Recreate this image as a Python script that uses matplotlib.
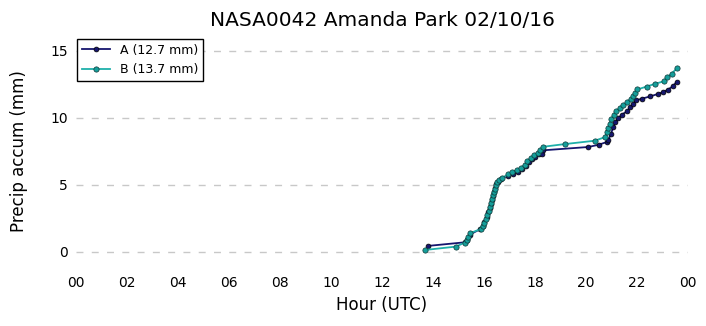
import matplotlib
matplotlib.use("Agg")
import matplotlib.pyplot as plt
from matplotlib.ticker import FuncFormatter

# Gauge A accumulation (hour UTC, mm)
hours_a = [13.8, 15.25, 15.35, 15.45, 15.85, 15.95, 16.02, 16.1, 16.17, 16.23,
           16.28, 16.33, 16.37, 16.4, 16.43, 16.47, 16.55, 16.65, 16.95, 17.15,
           17.35, 17.5, 17.65, 17.75, 17.88, 18.02, 18.15, 18.26, 18.3, 20.09,
           20.5, 20.81, 20.87, 20.98, 21.07, 21.14, 21.27, 21.4, 21.6, 21.73,
           21.86, 21.95, 22.18, 22.51, 22.84, 23.03, 23.2, 23.4, 23.56]
accum_a = [0.45, 0.72, 0.9, 1.3, 1.7, 1.95, 2.25, 2.6, 2.95, 3.3,
           3.6, 3.9, 4.2, 4.5, 4.8, 5.05, 5.25, 5.45, 5.7, 5.85,
           6.0, 6.2, 6.45, 6.7, 6.9, 7.1, 7.3, 7.34, 7.58, 7.83,
           8.0, 8.2, 8.33, 8.82, 9.32, 9.69, 9.99, 10.24, 10.48, 10.8,
           11.06, 11.3, 11.43, 11.6, 11.8, 11.92, 12.1, 12.35, 12.7]

# Gauge B accumulation (hour UTC, mm)
hours_b = [13.7, 14.9, 15.25, 15.32, 15.38, 15.45, 15.88, 15.95, 16.0, 16.06,
           16.13, 16.2, 16.24, 16.29, 16.33, 16.37, 16.39, 16.42, 16.46, 16.52,
           16.59, 16.72, 16.95, 17.11, 17.29, 17.44, 17.61, 17.7, 17.83, 17.96,
           18.13, 18.2, 18.33, 19.18, 20.35, 20.75, 20.81, 20.87, 20.94, 21.0,
           21.08, 21.16, 21.33, 21.47, 21.6, 21.76, 21.86, 21.92, 22.01, 22.38,
           22.7, 23.07, 23.19, 23.36, 23.56]
accum_b = [0.15, 0.4, 0.7, 0.9, 1.1, 1.4, 1.71, 1.93, 2.18, 2.45,
           2.75, 3.07, 3.37, 3.67, 3.92, 4.24, 4.48, 4.73, 4.98, 5.2,
           5.35, 5.55, 5.78, 5.97, 6.12, 6.27, 6.52, 6.77, 7.01, 7.21,
           7.41, 7.58, 7.85, 8.05, 8.3, 8.57, 8.95, 9.25, 9.57, 9.94,
           10.2, 10.48, 10.73, 10.93, 11.17, 11.42, 11.6, 11.85, 12.12, 12.34,
           12.54, 12.74, 13.05, 13.3, 13.7]

labels = ["A (12.7 mm)", "B (13.7 mm)"]
x_ticks = list(range(0, 25, 2))
y_ticks = [0, 5, 10, 15]

fig = plt.figure(figsize=(7.06, 3.26), dpi=100)
ax = fig.add_axes([0.1076, 0.186, 0.8669, 0.699])

ax.plot(hours_a, accum_a, "-o", color="#16166e", lw=1.3, ms=3.5,
        mfc="#16166e", mec="black", mew=0.5, label=labels[0], zorder=3)
ax.plot(hours_b, accum_b, "-o", color="#1fb0aa", lw=1.3, ms=3.8,
        mfc="#159e9a", mec="#103838", mew=0.5, label=labels[1], zorder=4)

ax.set_xlim(0, 24)
ax.set_ylim(-1, 16)
ax.set_xticks(x_ticks)
ax.xaxis.set_major_formatter(FuncFormatter(lambda v, p: "%02d" % (int(v) % 24)))
ax.set_yticks(y_ticks)
ax.tick_params(length=0, labelsize=10, pad=8)
ax.tick_params(axis="y", pad=6)

for s in ax.spines.values():
    s.set_visible(False)
ax.yaxis.grid(True, linestyle=(0, (5, 6)), color="#c8c8c8", lw=1)

ax.set_title("NASA0042 Amanda Park 02/10/16", fontsize=14.5, pad=8)
ax.set_xlabel("Hour (UTC)", fontsize=12)
ax.set_ylabel("Precip accum (mm)", fontsize=12, labelpad=16)

leg = ax.legend(loc="upper left", fontsize=9, fancybox=False, framealpha=1,
                borderaxespad=0.1, handlelength=2.2)
leg.get_frame().set_edgecolor("black")

fig.savefig("out.png", dpi=100)
